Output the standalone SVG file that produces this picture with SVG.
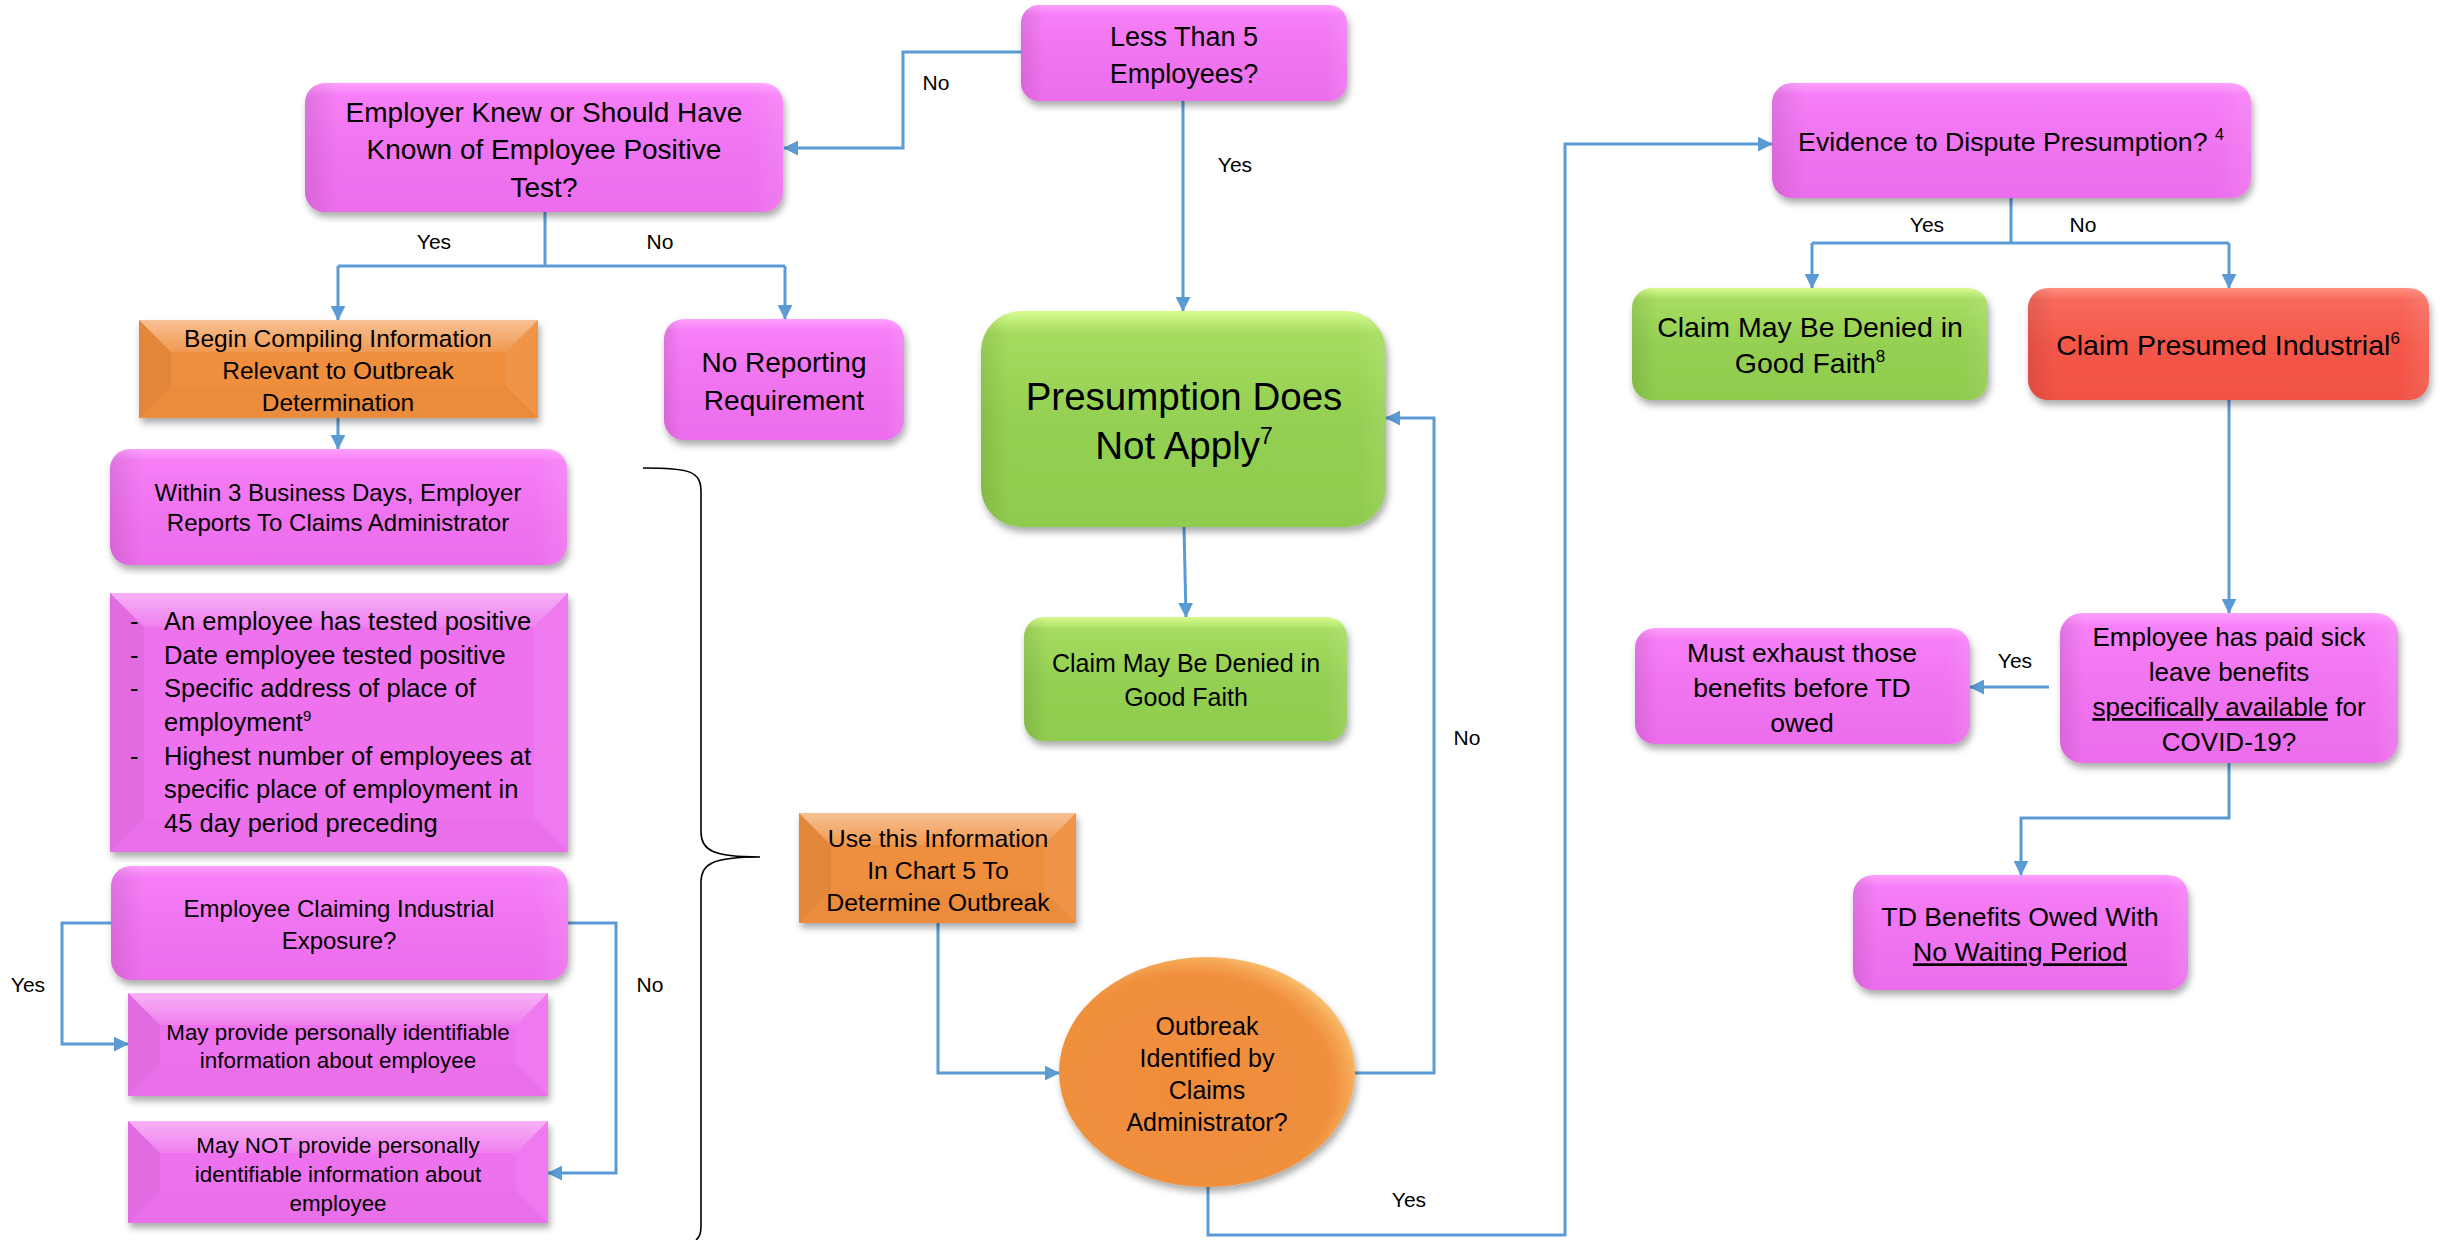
<svg xmlns="http://www.w3.org/2000/svg" width="2440" height="1240" viewBox="0 0 2440 1240">
<defs>
<style>
text{font-family:"Liberation Sans",Arial,sans-serif;fill:#000;text-anchor:middle}
.c{fill:none;stroke:#5B9BD5;stroke-width:3}
.ca{fill:none;stroke:#5B9BD5;stroke-width:3;marker-end:url(#ah)}
.lbl{font-size:21px}
.pk{fill:url(#gPk);filter:url(#sh)}
.gr{fill:url(#gGr);filter:url(#sh)}
.rd{fill:url(#gRd);filter:url(#sh)}
.side{fill:url(#gSide)}
.bpk{fill:#EE72EE;filter:url(#sh)}
.bor{fill:#EF8E3C;filter:url(#sh)}
.bt{fill:url(#gBt)}
.bl{fill:#000;fill-opacity:.05}
.br{fill:#fff;fill-opacity:.06}
.bb{fill:#000;fill-opacity:.015}
.brace{fill:none;stroke:#000;stroke-width:1.6}
</style>
<filter id="sh" x="-10%" y="-10%" width="125%" height="135%">
<feDropShadow dx="2" dy="5" stdDeviation="3.5" flood-color="#000" flood-opacity="0.33"/>
</filter>
<marker id="ah" viewBox="0 0 10 10" refX="9.5" refY="5" markerUnits="userSpaceOnUse" markerWidth="15" markerHeight="15" orient="auto">
<path d="M0,0 L10,5 L0,10 z" fill="#5B9BD5"/>
</marker>
<linearGradient id="gPk" x1="0" y1="0" x2="0" y2="1">
<stop offset="0" stop-color="#FFA0FF"/><stop offset="0.1" stop-color="#F67EF6"/><stop offset="0.5" stop-color="#F074F0"/><stop offset="1" stop-color="#EC6DEC"/>
</linearGradient>
<linearGradient id="gGr" x1="0" y1="0" x2="0" y2="1">
<stop offset="0" stop-color="#D8FB90"/><stop offset="0.1" stop-color="#A6DC60"/><stop offset="0.5" stop-color="#94D052"/><stop offset="1" stop-color="#8FCB4E"/>
</linearGradient>
<linearGradient id="gRd" x1="0" y1="0" x2="0" y2="1">
<stop offset="0" stop-color="#FF9080"/><stop offset="0.1" stop-color="#F86A5C"/><stop offset="0.5" stop-color="#F45849"/><stop offset="1" stop-color="#F05244"/>
</linearGradient>
<linearGradient id="gSide" x1="0" y1="0" x2="1" y2="0">
<stop offset="0" stop-color="#000" stop-opacity="0.09"/><stop offset="0.07" stop-color="#000" stop-opacity="0"/><stop offset="0.93" stop-color="#fff" stop-opacity="0"/><stop offset="1" stop-color="#fff" stop-opacity="0.1"/>
</linearGradient>
<linearGradient id="gBt" x1="0" y1="0" x2="0" y2="1">
<stop offset="0" stop-color="#fff" stop-opacity="0.45"/><stop offset="1" stop-color="#fff" stop-opacity="0.1"/>
</linearGradient>
<radialGradient id="gOv" cx="0.44" cy="0.56" r="0.58">
<stop offset="0" stop-color="#EF8C3A"/><stop offset="0.84" stop-color="#F0903E"/><stop offset="0.93" stop-color="#F5A452"/><stop offset="1" stop-color="#F9BC6C"/>
</radialGradient>
</defs>
<rect width="2440" height="1240" fill="#fff"/>

<g id="connectors">
<path class="ca" d="M1021,52 H903 V148 H784"/>
<path class="ca" d="M1183,101 V311"/>
<path class="c" d="M545,212 V266 M338,266 H785"/>
<path class="ca" d="M338,266 V320"/>
<path class="ca" d="M785,266 V319"/>
<path class="ca" d="M338,418 V449"/>
<path class="ca" d="M111,923 H62 V1044 H128"/>
<path class="ca" d="M568,923 H616 V1173 H548"/>
<path class="ca" d="M938,923 V1073 H1059"/>
<path class="ca" d="M1355,1073 H1434 V418 H1386"/>
<path class="ca" d="M1208,1187 V1235 H1565 V144 H1772"/>
<path class="ca" d="M1184,527 L1186,617"/>
<path class="c" d="M2011,198 V243 M1812,243 H2229"/>
<path class="ca" d="M1812,243 V288"/>
<path class="ca" d="M2229,243 V288"/>
<path class="ca" d="M2229,400 V613"/>
<path class="ca" d="M2049,687 H1970"/>
<path class="ca" d="M2229,763 V818 H2021 V875"/>
<path class="brace" d="M643,468 C690,468 701,471 701,492 V832 C701,850 712,857 760,857 M760,857 C712,857 701,864 701,882 V1226 C701,1234 699,1238 696,1240"/>
<text class="lbl" x="936" y="90">No</text>
<text class="lbl" x="1235" y="172">Yes</text>
<text class="lbl" x="434" y="249">Yes</text>
<text class="lbl" x="660" y="249">No</text>
<text class="lbl" x="28" y="992">Yes</text>
<text class="lbl" x="650" y="992">No</text>
<text class="lbl" x="1467" y="745">No</text>
<text class="lbl" x="1409" y="1207">Yes</text>
<text class="lbl" x="1927" y="232">Yes</text>
<text class="lbl" x="2083" y="232">No</text>
<text class="lbl" x="2015" y="668">Yes</text>
</g>

<g id="less5">
<rect class="pk" x="1021" y="5" width="326" height="96" rx="18"/>
<rect class="side" x="1021" y="5" width="326" height="96" rx="18"/>
<text font-size="27"><tspan x="1184" y="45.5">Less Than 5</tspan><tspan x="1184" y="82.5">Employees?</tspan></text>
</g>

<g id="knew">
<rect class="pk" x="305" y="83" width="478" height="129" rx="20"/>
<rect class="side" x="305" y="83" width="478" height="129" rx="20"/>
<text font-size="28"><tspan x="544" y="121.8">Employer Knew or Should Have</tspan><tspan x="544" y="159.3">Known of Employee Positive</tspan><tspan x="544" y="196.8">Test?</tspan></text>
</g>

<g id="begin">
<rect class="bor" x="139" y="320" width="399" height="98"/>
<polygon class="bt" points="139,320 538,320 506,352 171,352"/>
<polygon class="bl" points="139,320 171,352 171,386 139,418"/>
<polygon class="br" points="538,320 538,418 506,386 506,352"/>
<polygon class="bb" points="139,418 538,418 506,386 171,386"/>
<text font-size="24.5"><tspan x="338" y="346.6">Begin Compiling Information</tspan><tspan x="338" y="378.6">Relevant to Outbreak</tspan><tspan x="338" y="410.6">Determination</tspan></text>
</g>

<g id="noreport">
<rect class="pk" x="664" y="319" width="240" height="121" rx="20"/>
<rect class="side" x="664" y="319" width="240" height="121" rx="20"/>
<text font-size="28"><tspan x="784" y="371.8">No Reporting</tspan><tspan x="784" y="409.8">Requirement</tspan></text>
</g>

<g id="within">
<rect class="pk" x="110" y="449" width="457" height="116" rx="20"/>
<rect class="side" x="110" y="449" width="457" height="116" rx="20"/>
<text font-size="24"><tspan x="338" y="501.4">Within 3 Business Days, Employer</tspan><tspan x="338" y="531.4">Reports To Claims Administrator</tspan></text>
</g>

<g id="bullets">
<rect class="bpk" x="110" y="593" width="458" height="259"/>
<polygon class="bt" points="110,593 568,593 534,627 144,627"/>
<polygon class="bl" points="110,593 144,627 144,818 110,852"/>
<polygon class="br" points="568,593 568,852 534,818 534,627"/>
<polygon class="bb" points="110,852 568,852 534,818 144,818"/>
<text font-size="25.5" style="text-anchor:start">
<tspan x="130" y="629.9">-</tspan><tspan x="164" y="629.9">An employee has tested positive</tspan>
<tspan x="130" y="663.6">-</tspan><tspan x="164" y="663.6">Date employee tested positive</tspan>
<tspan x="130" y="697.3">-</tspan><tspan x="164" y="697.3">Specific address of place of</tspan>
<tspan x="164" y="731">employment</tspan><tspan font-size="15" dy="-10">9</tspan>
<tspan x="130" y="764.7">-</tspan><tspan x="164" y="764.7">Highest number of employees at</tspan>
<tspan x="164" y="798.4">specific place of employment in</tspan>
<tspan x="164" y="832.1">45 day period preceding</tspan>
</text>
</g>

<g id="empclaim">
<rect class="pk" x="111" y="866" width="457" height="114" rx="20"/>
<rect class="side" x="111" y="866" width="457" height="114" rx="20"/>
<text font-size="24"><tspan x="339" y="917.4">Employee Claiming Industrial</tspan><tspan x="339" y="949.4">Exposure?</tspan></text>
</g>

<g id="mayprov">
<rect class="bpk" x="128" y="993" width="420" height="103"/>
<polygon class="bt" points="128,993 548,993 516,1025 160,1025"/>
<polygon class="bl" points="128,993 160,1025 160,1064 128,1096"/>
<polygon class="br" points="548,993 548,1096 516,1064 516,1025"/>
<polygon class="bb" points="128,1096 548,1096 516,1064 160,1064"/>
<text font-size="22.4"><tspan x="338" y="1039.8">May provide personally identifiable</tspan><tspan x="338" y="1067.8">information about employee</tspan></text>
</g>

<g id="maynot">
<rect class="bpk" x="128" y="1121" width="420" height="102"/>
<polygon class="bt" points="128,1121 548,1121 516,1153 160,1153"/>
<polygon class="bl" points="128,1121 160,1153 160,1191 128,1223"/>
<polygon class="br" points="548,1121 548,1223 516,1191 516,1153"/>
<polygon class="bb" points="128,1223 548,1223 516,1191 160,1191"/>
<text font-size="22.4"><tspan x="338" y="1152.8">May NOT provide personally</tspan><tspan x="338" y="1181.8">identifiable information about</tspan><tspan x="338" y="1210.8">employee</tspan></text>
</g>

<g id="usethis">
<rect class="bor" x="799" y="813" width="277" height="110"/>
<polygon class="bt" points="799,813 1076,813 1044,845 831,845"/>
<polygon class="bl" points="799,813 831,845 831,891 799,923"/>
<polygon class="br" points="1076,813 1076,923 1044,891 1044,845"/>
<polygon class="bb" points="799,923 1076,923 1044,891 831,891"/>
<text font-size="24.8"><tspan x="938" y="846.7">Use this Information</tspan><tspan x="938" y="878.7">In Chart 5 To</tspan><tspan x="938" y="910.7">Determine Outbreak</tspan></text>
</g>

<g id="outbreak">
<ellipse cx="1207" cy="1072" rx="148" ry="115" fill="url(#gOv)" filter="url(#sh)"/>
<text font-size="25"><tspan x="1207" y="1034.8">Outbreak</tspan><tspan x="1207" y="1066.8">Identified by</tspan><tspan x="1207" y="1098.8">Claims</tspan><tspan x="1207" y="1130.8">Administrator?</tspan></text>
</g>

<g id="presumption">
<rect class="gr" x="981" y="311" width="405" height="216" rx="40"/>
<rect class="side" x="981" y="311" width="405" height="216" rx="40"/>
<text font-size="38.5"><tspan x="1184" y="409.5">Presumption Does</tspan><tspan x="1184" y="458.5">Not Apply</tspan><tspan font-size="23" dy="-15">7</tspan></text>
</g>

<g id="denied1">
<rect class="gr" x="1024" y="617" width="323" height="124" rx="20"/>
<rect class="side" x="1024" y="617" width="323" height="124" rx="20"/>
<text font-size="25"><tspan x="1186" y="671.8">Claim May Be Denied in</tspan><tspan x="1186" y="705.8">Good Faith</tspan></text>
</g>

<g id="evidence">
<rect class="pk" x="1772" y="83" width="479" height="115" rx="20"/>
<rect class="side" x="1772" y="83" width="479" height="115" rx="20"/>
<text font-size="26.7" x="2011" y="151.3">Evidence to Dispute Presumption? <tspan font-size="16" dy="-11">4</tspan></text>
</g>

<g id="denied2">
<rect class="gr" x="1632" y="288" width="356" height="112" rx="20"/>
<rect class="side" x="1632" y="288" width="356" height="112" rx="20"/>
<text font-size="28.5"><tspan x="1810" y="337">Claim May Be Denied in</tspan><tspan x="1810" y="373">Good Faith</tspan><tspan font-size="17" dy="-11">8</tspan></text>
</g>

<g id="presumed">
<rect class="rd" x="2028" y="288" width="401" height="112" rx="20"/>
<rect class="side" x="2028" y="288" width="401" height="112" rx="20"/>
<text font-size="28.5" x="2228" y="355">Claim Presumed Industrial<tspan font-size="17" dy="-11">6</tspan></text>
</g>

<g id="sick">
<rect class="pk" x="2060" y="613" width="338" height="150" rx="22"/>
<rect class="side" x="2060" y="613" width="338" height="150" rx="22"/>
<text font-size="26"><tspan x="2229" y="646.1">Employee has paid sick</tspan><tspan x="2229" y="681.1">leave benefits</tspan><tspan x="2229" y="716.1"><tspan text-decoration="underline">specifically available</tspan> for</tspan><tspan x="2229" y="751.1">COVID-19?</tspan></text>
</g>

<g id="exhaust">
<rect class="pk" x="1635" y="628" width="335" height="116" rx="20"/>
<rect class="side" x="1635" y="628" width="335" height="116" rx="20"/>
<text font-size="26.5"><tspan x="1802" y="662.3">Must exhaust those</tspan><tspan x="1802" y="697.3">benefits before TD</tspan><tspan x="1802" y="732.3">owed</tspan></text>
</g>

<g id="td">
<rect class="pk" x="1853" y="875" width="335" height="115" rx="20"/>
<rect class="side" x="1853" y="875" width="335" height="115" rx="20"/>
<text font-size="26.7"><tspan x="2020" y="926.3">TD Benefits Owed With</tspan><tspan x="2020" y="961.3" text-decoration="underline">No Waiting Period</tspan></text>
</g>
</svg>
